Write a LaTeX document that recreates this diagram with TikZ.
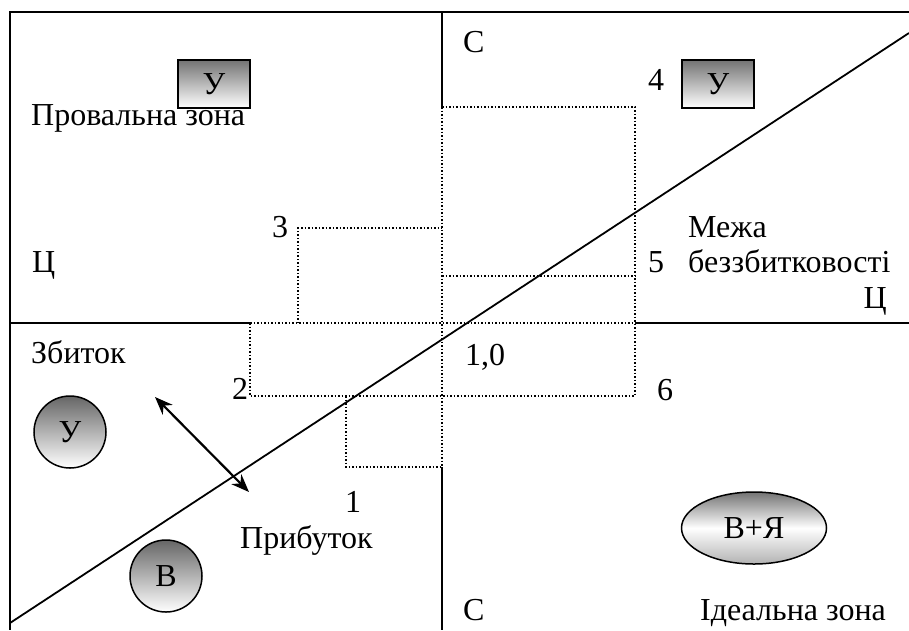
\documentclass[tikz,border=0pt]{standalone}
\usepackage{fontspec}
\setmainfont{Liberation Serif}
\usetikzlibrary{arrows.meta,shapes.geometric}

\tikzset{
  axis/.style={line width=2pt},
  cell/.style={line width=1.6pt, dash pattern=on 1.5pt off 2pt},
  ubox/.style={draw, line width=1.8pt, top color=black!55, bottom color=white,
    minimum width=72pt, minimum height=48pt, inner sep=0pt},
  ball/.style={circle, draw, line width=1.5pt, top color=black!60, bottom color=white,
    minimum size=72pt, inner sep=0pt},
  oval/.style={ellipse, draw, line width=1.5pt, top color=black!55, bottom color=black!30,
    middle color=white, minimum width=145pt, minimum height=72pt, inner sep=0pt},
  lbl/.style={inner sep=0pt, anchor=base west},
}

\begin{document}
\begin{tikzpicture}[x=1pt, y=-1pt, font=\fontsize{32}{36}\selectfont]
\useasboundingbox (0,0) rectangle (909,630);

% frame and axes
\draw[axis] (909,12) -- (10,12) -- (10,630);
\draw[axis] (442,12) -- (442,107);
\draw[axis] (442,467) -- (442,630);
\draw[axis] (10,323) -- (250,323);
\draw[axis] (635,323) -- (909,323);

% dotted cells round the centre
\draw[cell] (442,107) -- (635,107) -- (635,396);
\draw[cell] (442,107) -- (442,467);
\draw[cell] (442,276) -- (635,276);
\draw[cell] (250,323) -- (635,323);
\draw[cell] (250,323) -- (250,396) -- (635,396);
\draw[cell] (298,323) -- (298,228) -- (442,228);
\draw[cell] (346,396) -- (346,467) -- (442,467);

% break-even line
\coordinate (b0) at (10,623);
\coordinate (b1) at (909,33);
\draw[line width=1.8pt] (b0) -- (b1);

% shifting the line
\coordinate (s0) at (155,397);
\coordinate (s1) at (249,492);
\draw[line width=2.2pt, {Stealth[length=18pt,width=14pt]}-{Stealth[length=18pt,width=14pt]}] (s0) -- (s1);

\node[ubox] (u1) at (214,84) {У};
\node[ubox] (u2) at (718,84) {У};
\node[ball] (u3) at (70,432) {У};
\node[ball] (v1) at (166,576) {В};
\node[oval] (vy) at (754,528) {В+Я};

\node[lbl] (fail) at (31,125) {Провальна зона};
\node[lbl] (c1) at (463,52) {С};
\node[lbl] (n4) at (648,90) {4};
\node[lbl] (p1) at (32,272) {Ц};
\node[lbl] (n3) at (272,237) {3};
\node[lbl] (mezha) at (688,237) {Межа};
\node[lbl] (bez) at (688,272) {беззбитковості};
\node[lbl] (n5) at (648,272) {5};
\node[lbl, anchor=base east] (p2) at (887,308) {Ц};
\node[lbl] (loss) at (31,363) {Збиток};
\node[lbl] (n2) at (232,399) {2};
\node[lbl] (n10) at (465,365) {1,0};
\node[lbl] (n6) at (657,400) {6};
\node[lbl] (n1) at (345,512) {1};
\node[lbl] (gain) at (240,548) {Прибуток};
\node[lbl] (c2) at (463,620) {С};
\node[lbl] (ideal) at (700,620) {Ідеальна зона};
\end{tikzpicture}
\end{document}
